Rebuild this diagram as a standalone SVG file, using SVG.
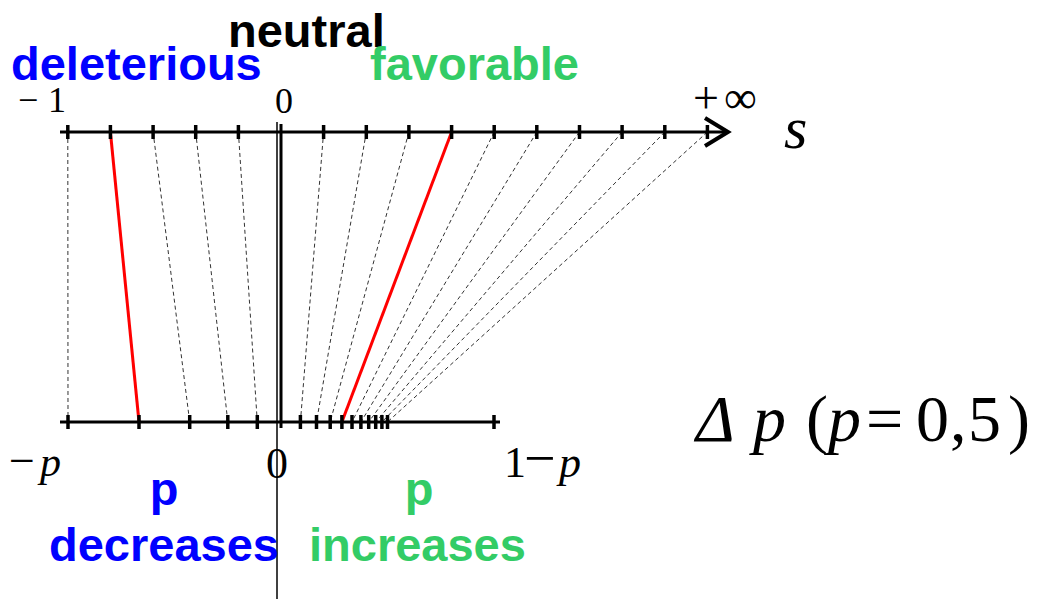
<svg xmlns="http://www.w3.org/2000/svg" width="1039" height="599" viewBox="0 0 1039 599">
<style>
.axis{stroke:#000;stroke-width:3;fill:none}
.tick{stroke:#000;stroke-width:3.5}
.dash{stroke:#333;stroke-width:1;stroke-dasharray:4,3;fill:none}
.red{stroke:#ff0000;stroke-width:3;fill:none}
.serif{font-family:"Liberation Serif","Times New Roman",serif;fill:#000}
.it{font-style:italic}
.bold{font-family:"Liberation Sans",Arial,sans-serif;font-weight:bold}
.blue{fill:#0000ff}
.green{fill:#33cc66}
</style>
<rect width="1039" height="599" fill="#fff"/>
<g id="connectors">
  <line class="dash" x1="67.8" y1="132" x2="68" y2="422"/>
  <line class="dash" x1="153.1" y1="132" x2="189.7" y2="422"/>
  <line class="dash" x1="195.7" y1="132" x2="227.8" y2="422"/>
  <line class="dash" x1="238.4" y1="132" x2="257.3" y2="422"/>
  <line class="dash" x1="323.6" y1="132" x2="300.4" y2="422"/>
  <line class="dash" x1="366.3" y1="132" x2="316.5" y2="422"/>
  <line class="dash" x1="408.9" y1="132" x2="330.2" y2="422"/>
  <line class="dash" x1="494.2" y1="132" x2="352" y2="422"/>
  <line class="dash" x1="536.8" y1="132" x2="360.9" y2="422"/>
  <line class="dash" x1="579.5" y1="132" x2="368.7" y2="422"/>
  <line class="dash" x1="622.1" y1="132" x2="375.7" y2="422"/>
  <line class="dash" x1="664.8" y1="132" x2="381.9" y2="422"/>
  <line class="dash" x1="707.4" y1="132" x2="387.5" y2="422"/>
  <line class="red" x1="110.4" y1="132" x2="139" y2="422"/>
  <line class="red" x1="451.6" y1="132" x2="341.9" y2="422"/>
</g>
<g id="s-axis">
  <line class="axis" x1="60" y1="132" x2="727" y2="132"/>
  <polyline points="705,118 728,132 705,146" fill="none" stroke="#000" stroke-width="4"/>
  <g class="tick">
    <line x1="67.8" y1="125" x2="67.8" y2="139"/>
    <line x1="110.4" y1="125" x2="110.4" y2="139"/>
    <line x1="153.1" y1="125" x2="153.1" y2="139"/>
    <line x1="195.7" y1="125" x2="195.7" y2="139"/>
    <line x1="238.4" y1="125" x2="238.4" y2="139"/>
    <line x1="323.6" y1="125" x2="323.6" y2="139"/>
    <line x1="366.3" y1="125" x2="366.3" y2="139"/>
    <line x1="408.9" y1="125" x2="408.9" y2="139"/>
    <line x1="451.6" y1="125" x2="451.6" y2="139"/>
    <line x1="494.2" y1="125" x2="494.2" y2="139"/>
    <line x1="536.8" y1="125" x2="536.8" y2="139"/>
    <line x1="579.5" y1="125" x2="579.5" y2="139"/>
    <line x1="622.1" y1="125" x2="622.1" y2="139"/>
    <line x1="664.8" y1="125" x2="664.8" y2="139"/>
    <line x1="707.4" y1="125" x2="707.4" y2="139"/>
  </g>
</g>
<g id="dp-axis">
  <line class="axis" x1="60" y1="422" x2="500" y2="422"/>
  <g class="tick">
    <line x1="68" y1="415" x2="68" y2="429"/>
    <line x1="139" y1="415" x2="139" y2="429"/>
    <line x1="189.7" y1="415" x2="189.7" y2="429"/>
    <line x1="227.8" y1="415" x2="227.8" y2="429"/>
    <line x1="257.3" y1="415" x2="257.3" y2="429"/>
    <line x1="300.4" y1="415" x2="300.4" y2="429"/>
    <line x1="316.5" y1="415" x2="316.5" y2="429"/>
    <line x1="330.2" y1="415" x2="330.2" y2="429"/>
    <line x1="341.9" y1="415" x2="341.9" y2="429"/>
    <line x1="352" y1="415" x2="352" y2="429"/>
    <line x1="360.9" y1="415" x2="360.9" y2="429"/>
    <line x1="368.7" y1="415" x2="368.7" y2="429"/>
    <line x1="375.7" y1="415" x2="375.7" y2="429"/>
    <line x1="381.9" y1="415" x2="381.9" y2="429"/>
    <line x1="387.5" y1="415" x2="387.5" y2="429"/>
    <line x1="494" y1="415" x2="494" y2="429"/>
  </g>
</g>
<g id="zero-lines">
  <line x1="281" y1="124" x2="281" y2="428" stroke="#000" stroke-width="3"/>
  <line x1="277" y1="122" x2="277" y2="599" stroke="#000" stroke-width="1.5"/>
</g>
<g id="top-labels">
  <text class="bold" x="228" y="47" font-size="47">neutral</text>
  <text class="bold blue" x="11" y="80" font-size="47">deleterious</text>
  <text class="bold green" x="370" y="80" font-size="47">favorable</text>
  <text class="serif" y="112" font-size="36"><tspan x="18" dy="0">−</tspan><tspan x="48">1</tspan></text>
  <text class="serif" x="284" y="113" font-size="36" text-anchor="middle">0</text>
  <text class="serif" y="113" font-size="46"><tspan x="693">+</tspan><tspan x="724">∞</tspan></text>
  <text class="serif it" x="784" y="148" font-size="60">s</text>
</g>
<g id="bottom-labels">
  <text class="serif" y="476"><tspan x="9" font-size="46">−</tspan><tspan x="40" font-size="42" class="it">p</tspan></text>
  <text class="serif" x="277" y="478" font-size="44" text-anchor="middle">0</text>
  <text class="serif" y="477"><tspan x="504" font-size="44">1</tspan><tspan x="524" font-size="56">−</tspan><tspan x="559" font-size="44" class="it">p</tspan></text>
  <text class="serif" y="441" font-size="66"><tspan x="696" class="it">Δ</tspan><tspan x="753" class="it">p</tspan><tspan x="806">(</tspan><tspan x="828" class="it">p</tspan><tspan x="866">=</tspan><tspan x="916">0</tspan><tspan x="950">,</tspan><tspan x="968">5</tspan><tspan x="1008">)</tspan></text>
  <text class="bold blue" x="164" y="505" font-size="47" text-anchor="middle">p</text>
  <text class="bold blue" x="49" y="561" font-size="47">decreases</text>
  <text class="bold green" x="419" y="505" font-size="47" text-anchor="middle">p</text>
  <text class="bold green" x="309" y="561" font-size="47">increases</text>
</g>
</svg>
